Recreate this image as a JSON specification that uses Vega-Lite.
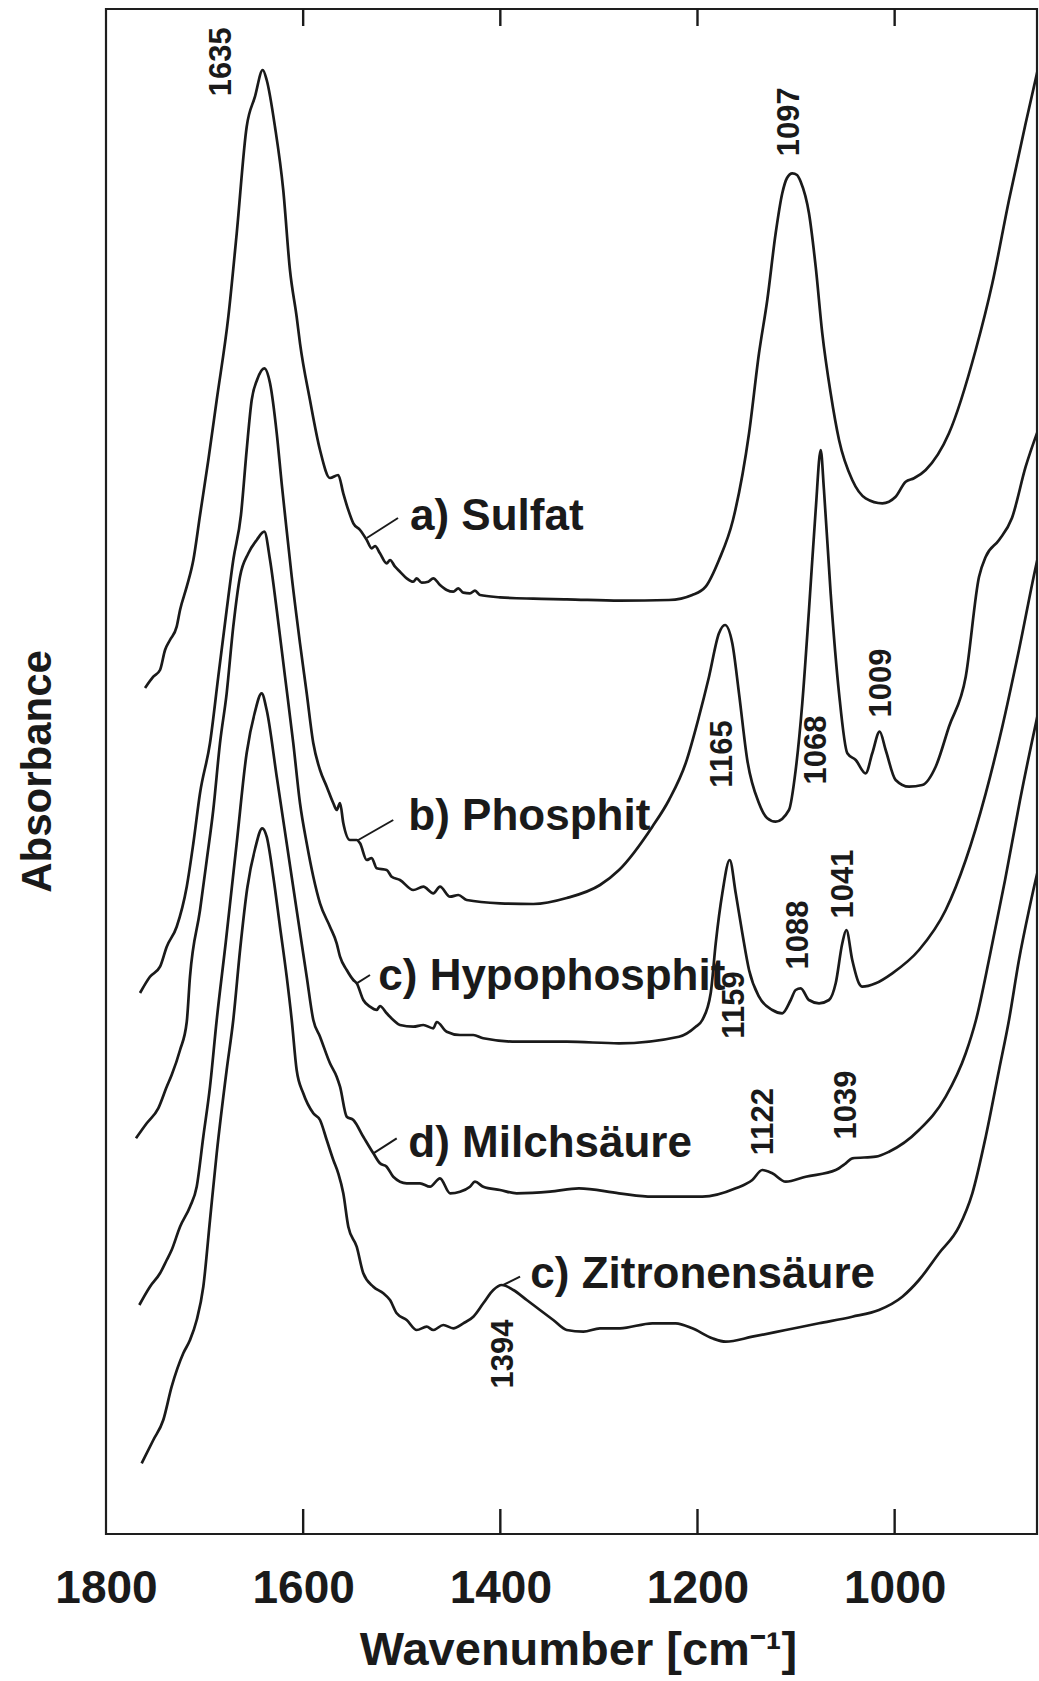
{
  "$schema": "https://vega.github.io/schema/vega-lite/v6.json",
  "width": 931,
  "height": 1525,
  "autosize": {"type": "none"},
  "padding": {"left": 106, "top": 9, "right": 2, "bottom": 147},
  "background": "white",
  "config": {
    "view": {"stroke": "#1e1e1e", "strokeWidth": 2.2},
    "font": "Liberation Sans, Arial, sans-serif"
  },
  "datasets": {
    "spectra": [
      {"s":"a","wn":1760.4,"A":846},{"s":"a","wn":1752.0,"A":857.3},{"s":"a","wn":1745.2,"A":864},{"s":"a","wn":1740.1,"A":884},{"s":"a","wn":1735.1,"A":894},{"s":"a","wn":1728.3,"A":907.3},{"s":"a","wn":1724.9,"A":924},{"s":"a","wn":1718.1,"A":947.3},{"s":"a","wn":1711.4,"A":974},{"s":"a","wn":1704.6,"A":1019},{"s":"a","wn":1696.2,"A":1074},{"s":"a","wn":1687.7,"A":1134},{"s":"a","wn":1675.9,"A":1217.3},{"s":"a","wn":1667.4,"A":1300.7},{"s":"a","wn":1657.3,"A":1407.3},{"s":"a","wn":1648.9,"A":1437.3},{"s":"a","wn":1641.0,"A":1464},{"s":"a","wn":1637.0,"A":1454},{"s":"a","wn":1628.6,"A":1407.3},{"s":"a","wn":1620.2,"A":1344},{"s":"a","wn":1613.4,"A":1264},{"s":"a","wn":1606.6,"A":1217.3},{"s":"a","wn":1603.2,"A":1190.7},{"s":"a","wn":1593.1,"A":1134},{"s":"a","wn":1582.9,"A":1084},{"s":"a","wn":1572.8,"A":1056},{"s":"a","wn":1564.4,"A":1059},{"s":"a","wn":1559.3,"A":1040.7},{"s":"a","wn":1554.2,"A":1024},{"s":"a","wn":1549.1,"A":1010.7},{"s":"a","wn":1542.3,"A":1004},{"s":"a","wn":1535.5,"A":994},{"s":"a","wn":1530.5,"A":985.7},{"s":"a","wn":1527.1,"A":988},{"s":"a","wn":1522.1,"A":980.7},{"s":"a","wn":1515.3,"A":970.7},{"s":"a","wn":1511.9,"A":974},{"s":"a","wn":1506.8,"A":967.3},{"s":"a","wn":1501.8,"A":962.3},{"s":"a","wn":1495.0,"A":955.7},{"s":"a","wn":1488.3,"A":952.3},{"s":"a","wn":1484.8,"A":955.7},{"s":"a","wn":1479.8,"A":951.3},{"s":"a","wn":1473.1,"A":952.3},{"s":"a","wn":1468.0,"A":955.7},{"s":"a","wn":1461.2,"A":949},{"s":"a","wn":1454.4,"A":944},{"s":"a","wn":1447.7,"A":942.3},{"s":"a","wn":1442.6,"A":945.7},{"s":"a","wn":1437.6,"A":941.3},{"s":"a","wn":1430.8,"A":940.7},{"s":"a","wn":1425.7,"A":943.3},{"s":"a","wn":1420.6,"A":939},{"s":"a","wn":1400.3,"A":936.7},{"s":"a","wn":1366.5,"A":935.3},{"s":"a","wn":1332.7,"A":934.7},{"s":"a","wn":1278.6,"A":933.3},{"s":"a","wn":1228.9,"A":934},{"s":"a","wn":1205.3,"A":939},{"s":"a","wn":1191.7,"A":947.3},{"s":"a","wn":1178.2,"A":974},{"s":"a","wn":1164.0,"A":1014},{"s":"a","wn":1147.7,"A":1100.7},{"s":"a","wn":1137.6,"A":1180.7},{"s":"a","wn":1129.2,"A":1234},{"s":"a","wn":1120.7,"A":1300.7},{"s":"a","wn":1114.0,"A":1340.7},{"s":"a","wn":1109.2,"A":1356},{"s":"a","wn":1103.8,"A":1360.7},{"s":"a","wn":1099.0,"A":1359},{"s":"a","wn":1095.3,"A":1352.3},{"s":"a","wn":1086.9,"A":1320.7},{"s":"a","wn":1080.1,"A":1267.3},{"s":"a","wn":1073.4,"A":1200.7},{"s":"a","wn":1064.9,"A":1140.7},{"s":"a","wn":1056.4,"A":1094},{"s":"a","wn":1043.0,"A":1054},{"s":"a","wn":1029.4,"A":1035.7},{"s":"a","wn":1012.5,"A":1030.7},{"s":"a","wn":999.0,"A":1037.3},{"s":"a","wn":988.8,"A":1052.3},{"s":"a","wn":980.4,"A":1055.7},{"s":"a","wn":968.5,"A":1064},{"s":"a","wn":944.9,"A":1100.7},{"s":"a","wn":917.8,"A":1184},{"s":"a","wn":900.9,"A":1250.7},{"s":"a","wn":884.0,"A":1334},{"s":"a","wn":867.1,"A":1410.7},{"s":"a","wn":852.6,"A":1474},
      {"s":"b","wn":1765.5,"A":541},{"s":"b","wn":1755.4,"A":557.3},{"s":"b","wn":1745.2,"A":567.3},{"s":"b","wn":1738.4,"A":587.3},{"s":"b","wn":1728.3,"A":607.3},{"s":"b","wn":1718.1,"A":647.3},{"s":"b","wn":1711.4,"A":690.7},{"s":"b","wn":1704.6,"A":741},{"s":"b","wn":1694.5,"A":791},{"s":"b","wn":1686.1,"A":857.3},{"s":"b","wn":1677.6,"A":924},{"s":"b","wn":1670.9,"A":974},{"s":"b","wn":1663.1,"A":1019},{"s":"b","wn":1657.3,"A":1084},{"s":"b","wn":1652.2,"A":1134},{"s":"b","wn":1646.8,"A":1154},{"s":"b","wn":1639.4,"A":1165.7},{"s":"b","wn":1633.6,"A":1150.7},{"s":"b","wn":1626.8,"A":1100.7},{"s":"b","wn":1621.8,"A":1050.7},{"s":"b","wn":1618.4,"A":1019},{"s":"b","wn":1611.6,"A":957.3},{"s":"b","wn":1603.2,"A":890.7},{"s":"b","wn":1596.4,"A":840.7},{"s":"b","wn":1589.7,"A":790.7},{"s":"b","wn":1582.9,"A":764},{"s":"b","wn":1576.1,"A":747.3},{"s":"b","wn":1569.4,"A":730.7},{"s":"b","wn":1566.0,"A":724},{"s":"b","wn":1562.6,"A":731},{"s":"b","wn":1559.3,"A":711},{"s":"b","wn":1552.5,"A":694},{"s":"b","wn":1545.7,"A":694},{"s":"b","wn":1542.3,"A":690.7},{"s":"b","wn":1535.5,"A":674},{"s":"b","wn":1530.5,"A":676},{"s":"b","wn":1525.4,"A":665.7},{"s":"b","wn":1515.3,"A":664},{"s":"b","wn":1510.2,"A":657.3},{"s":"b","wn":1501.8,"A":654},{"s":"b","wn":1488.3,"A":644},{"s":"b","wn":1478.1,"A":647.3},{"s":"b","wn":1468.0,"A":640.7},{"s":"b","wn":1461.2,"A":647.3},{"s":"b","wn":1451.0,"A":637.3},{"s":"b","wn":1442.6,"A":639},{"s":"b","wn":1434.1,"A":634},{"s":"b","wn":1400.3,"A":630.7},{"s":"b","wn":1366.5,"A":630},{"s":"b","wn":1332.7,"A":636},{"s":"b","wn":1298.9,"A":649},{"s":"b","wn":1279.6,"A":664},{"s":"b","wn":1245.8,"A":707.3},{"s":"b","wn":1228.9,"A":734},{"s":"b","wn":1212.0,"A":770.7},{"s":"b","wn":1198.5,"A":817.3},{"s":"b","wn":1188.3,"A":857.3},{"s":"b","wn":1178.2,"A":900.7},{"s":"b","wn":1172.1,"A":909},{"s":"b","wn":1164.7,"A":890.7},{"s":"b","wn":1157.9,"A":840.7},{"s":"b","wn":1149.5,"A":774},{"s":"b","wn":1137.6,"A":730.7},{"s":"b","wn":1129.5,"A":716},{"s":"b","wn":1120.7,"A":712.3},{"s":"b","wn":1107.2,"A":724},{"s":"b","wn":1100.4,"A":764},{"s":"b","wn":1093.7,"A":830.7},{"s":"b","wn":1086.9,"A":924},{"s":"b","wn":1080.1,"A":1024},{"s":"b","wn":1075.0,"A":1084},{"s":"b","wn":1071.7,"A":1044},{"s":"b","wn":1064.9,"A":940.7},{"s":"b","wn":1056.4,"A":840.7},{"s":"b","wn":1048.0,"A":780.7},{"s":"b","wn":1039.5,"A":774},{"s":"b","wn":1029.4,"A":760.7},{"s":"b","wn":1022.7,"A":780.7},{"s":"b","wn":1015.2,"A":802.3},{"s":"b","wn":1009.1,"A":784},{"s":"b","wn":999.0,"A":754},{"s":"b","wn":985.4,"A":747.3},{"s":"b","wn":972.0,"A":749},{"s":"b","wn":958.4,"A":767.3},{"s":"b","wn":944.9,"A":807.3},{"s":"b","wn":927.9,"A":857.3},{"s":"b","wn":914.4,"A":957.3},{"s":"b","wn":907.6,"A":977.3},{"s":"b","wn":894.1,"A":994},{"s":"b","wn":881.0,"A":1016},{"s":"b","wn":867.1,"A":1067.3},{"s":"b","wn":852.6,"A":1109},
      {"s":"c","wn":1769.6,"A":395.7},{"s":"c","wn":1758.7,"A":410.7},{"s":"c","wn":1747.0,"A":425.7},{"s":"c","wn":1738.4,"A":447.3},{"s":"c","wn":1733.4,"A":459},{"s":"c","wn":1724.9,"A":484},{"s":"c","wn":1718.1,"A":512},{"s":"c","wn":1714.8,"A":557.3},{"s":"c","wn":1704.6,"A":624},{"s":"c","wn":1697.8,"A":674},{"s":"c","wn":1691.2,"A":724},{"s":"c","wn":1684.4,"A":790.7},{"s":"c","wn":1677.6,"A":840.7},{"s":"c","wn":1670.9,"A":907.3},{"s":"c","wn":1664.1,"A":957.3},{"s":"c","wn":1655.6,"A":980.7},{"s":"c","wn":1647.1,"A":994},{"s":"c","wn":1639.4,"A":1002.3},{"s":"c","wn":1633.6,"A":974},{"s":"c","wn":1626.8,"A":924},{"s":"c","wn":1618.4,"A":857.3},{"s":"c","wn":1610.0,"A":790.7},{"s":"c","wn":1603.2,"A":730.7},{"s":"c","wn":1596.4,"A":690.7},{"s":"c","wn":1589.7,"A":657.3},{"s":"c","wn":1582.9,"A":630.7},{"s":"c","wn":1572.8,"A":607.3},{"s":"c","wn":1566.0,"A":590.7},{"s":"c","wn":1562.6,"A":577.3},{"s":"c","wn":1555.8,"A":564},{"s":"c","wn":1549.1,"A":554},{"s":"c","wn":1545.7,"A":550.7},{"s":"c","wn":1539.0,"A":534},{"s":"c","wn":1532.2,"A":527.3},{"s":"c","wn":1525.4,"A":524},{"s":"c","wn":1522.1,"A":528},{"s":"c","wn":1515.3,"A":520.7},{"s":"c","wn":1508.6,"A":514},{"s":"c","wn":1501.8,"A":509},{"s":"c","wn":1488.3,"A":507.3},{"s":"c","wn":1478.1,"A":509},{"s":"c","wn":1468.0,"A":505.7},{"s":"c","wn":1464.5,"A":512},{"s":"c","wn":1454.4,"A":502.3},{"s":"c","wn":1440.9,"A":499},{"s":"c","wn":1427.4,"A":499},{"s":"c","wn":1417.3,"A":495.7},{"s":"c","wn":1383.4,"A":492.3},{"s":"c","wn":1332.7,"A":492.3},{"s":"c","wn":1279.6,"A":490.7},{"s":"c","wn":1218.8,"A":497.3},{"s":"c","wn":1201.8,"A":507.3},{"s":"c","wn":1195.1,"A":514},{"s":"c","wn":1186.6,"A":540.7},{"s":"c","wn":1181.5,"A":590.7},{"s":"c","wn":1174.8,"A":640.7},{"s":"c","wn":1167.3,"A":674},{"s":"c","wn":1161.2,"A":640.7},{"s":"c","wn":1154.5,"A":600.7},{"s":"c","wn":1147.7,"A":564},{"s":"c","wn":1137.6,"A":537.3},{"s":"c","wn":1124.1,"A":524},{"s":"c","wn":1114.0,"A":520.7},{"s":"c","wn":1105.4,"A":534},{"s":"c","wn":1100.4,"A":544},{"s":"c","wn":1095.3,"A":545.7},{"s":"c","wn":1086.9,"A":534},{"s":"c","wn":1076.7,"A":530.7},{"s":"c","wn":1066.6,"A":534},{"s":"c","wn":1059.8,"A":550.7},{"s":"c","wn":1053.1,"A":590.7},{"s":"c","wn":1049.0,"A":604},{"s":"c","wn":1043.0,"A":574},{"s":"c","wn":1036.2,"A":550.7},{"s":"c","wn":1032.8,"A":547.3},{"s":"c","wn":1019.2,"A":550.7},{"s":"c","wn":1002.4,"A":560.7},{"s":"c","wn":975.3,"A":584},{"s":"c","wn":948.2,"A":624},{"s":"c","wn":927.9,"A":674},{"s":"c","wn":907.6,"A":740.7},{"s":"c","wn":890.8,"A":807.3},{"s":"c","wn":873.9,"A":884},{"s":"c","wn":855.3,"A":974},{"s":"c","wn":850.5,"A":994},
      {"s":"d","wn":1766.2,"A":229},{"s":"d","wn":1755.4,"A":247.3},{"s":"d","wn":1745.2,"A":260.7},{"s":"d","wn":1738.4,"A":274},{"s":"d","wn":1733.4,"A":284},{"s":"d","wn":1724.9,"A":307.3},{"s":"d","wn":1714.8,"A":327.3},{"s":"d","wn":1708.0,"A":347.3},{"s":"d","wn":1701.3,"A":397.3},{"s":"d","wn":1694.5,"A":447.3},{"s":"d","wn":1687.7,"A":514},{"s":"d","wn":1678.6,"A":591},{"s":"d","wn":1667.4,"A":691},{"s":"d","wn":1657.3,"A":781},{"s":"d","wn":1649.2,"A":821},{"s":"d","wn":1642.1,"A":840.7},{"s":"d","wn":1637.0,"A":824},{"s":"d","wn":1626.8,"A":757.3},{"s":"d","wn":1616.7,"A":690.7},{"s":"d","wn":1606.6,"A":624},{"s":"d","wn":1596.4,"A":557.3},{"s":"d","wn":1589.7,"A":514},{"s":"d","wn":1582.9,"A":497.3},{"s":"d","wn":1572.8,"A":470.7},{"s":"d","wn":1566.0,"A":457.3},{"s":"d","wn":1562.6,"A":447.3},{"s":"d","wn":1555.8,"A":417.3},{"s":"d","wn":1549.1,"A":414},{"s":"d","wn":1539.0,"A":397.3},{"s":"d","wn":1528.8,"A":380.7},{"s":"d","wn":1522.1,"A":370.7},{"s":"d","wn":1515.3,"A":367.3},{"s":"d","wn":1508.6,"A":357.3},{"s":"d","wn":1495.0,"A":350.7},{"s":"d","wn":1481.5,"A":350.7},{"s":"d","wn":1471.3,"A":347.3},{"s":"d","wn":1461.2,"A":355.7},{"s":"d","wn":1451.0,"A":340.7},{"s":"d","wn":1440.9,"A":342.3},{"s":"d","wn":1430.8,"A":347.3},{"s":"d","wn":1425.7,"A":352.3},{"s":"d","wn":1417.3,"A":347.3},{"s":"d","wn":1400.3,"A":344},{"s":"d","wn":1383.4,"A":340.7},{"s":"d","wn":1349.6,"A":342.3},{"s":"d","wn":1320.2,"A":345.7},{"s":"d","wn":1279.6,"A":340.7},{"s":"d","wn":1245.8,"A":337.3},{"s":"d","wn":1195.1,"A":337.3},{"s":"d","wn":1161.2,"A":345.7},{"s":"d","wn":1144.4,"A":354},{"s":"d","wn":1134.3,"A":364},{"s":"d","wn":1124.1,"A":360.7},{"s":"d","wn":1110.5,"A":352.3},{"s":"d","wn":1090.2,"A":357.3},{"s":"d","wn":1059.8,"A":364},{"s":"d","wn":1049.6,"A":370.7},{"s":"d","wn":1043.0,"A":375.7},{"s":"d","wn":1019.2,"A":377.3},{"s":"d","wn":1005.7,"A":382.3},{"s":"d","wn":975.3,"A":404},{"s":"d","wn":948.2,"A":437.3},{"s":"d","wn":927.9,"A":480.7},{"s":"d","wn":917.5,"A":514},{"s":"d","wn":903.3,"A":579},{"s":"d","wn":888.0,"A":654},{"s":"d","wn":872.8,"A":734},{"s":"d","wn":855.6,"A":816},{"s":"d","wn":850.5,"A":839},
      {"s":"e","wn":1763.8,"A":70.7},{"s":"e","wn":1752.0,"A":94},{"s":"e","wn":1741.9,"A":114},{"s":"e","wn":1733.4,"A":147.3},{"s":"e","wn":1721.6,"A":180.7},{"s":"e","wn":1714.8,"A":194},{"s":"e","wn":1708.0,"A":214},{"s":"e","wn":1701.3,"A":247.3},{"s":"e","wn":1694.5,"A":314},{"s":"e","wn":1687.7,"A":380.7},{"s":"e","wn":1677.6,"A":464},{"s":"e","wn":1670.9,"A":514},{"s":"e","wn":1663.8,"A":586},{"s":"e","wn":1656.7,"A":646},{"s":"e","wn":1648.6,"A":686},{"s":"e","wn":1641.5,"A":705.7},{"s":"e","wn":1637.0,"A":697.3},{"s":"e","wn":1630.3,"A":657.3},{"s":"e","wn":1623.5,"A":607.3},{"s":"e","wn":1616.7,"A":557.3},{"s":"e","wn":1611.6,"A":514},{"s":"e","wn":1606.6,"A":464},{"s":"e","wn":1599.9,"A":440.7},{"s":"e","wn":1589.7,"A":420.7},{"s":"e","wn":1582.9,"A":414},{"s":"e","wn":1576.1,"A":394},{"s":"e","wn":1569.4,"A":374},{"s":"e","wn":1564.4,"A":360.7},{"s":"e","wn":1559.3,"A":340.7},{"s":"e","wn":1554.2,"A":307.3},{"s":"e","wn":1545.7,"A":287.3},{"s":"e","wn":1539.0,"A":260.7},{"s":"e","wn":1528.8,"A":247.3},{"s":"e","wn":1518.7,"A":240.7},{"s":"e","wn":1511.9,"A":234},{"s":"e","wn":1505.1,"A":220.7},{"s":"e","wn":1495.0,"A":214},{"s":"e","wn":1484.8,"A":204},{"s":"e","wn":1474.7,"A":207.3},{"s":"e","wn":1468.0,"A":204},{"s":"e","wn":1457.8,"A":209},{"s":"e","wn":1447.7,"A":205.7},{"s":"e","wn":1437.6,"A":210.7},{"s":"e","wn":1427.4,"A":217.3},{"s":"e","wn":1417.3,"A":230.7},{"s":"e","wn":1407.1,"A":244},{"s":"e","wn":1398.6,"A":249},{"s":"e","wn":1386.8,"A":244},{"s":"e","wn":1373.2,"A":234},{"s":"e","wn":1359.8,"A":224},{"s":"e","wn":1346.3,"A":214},{"s":"e","wn":1332.7,"A":204},{"s":"e","wn":1315.8,"A":202.3},{"s":"e","wn":1298.9,"A":205.7},{"s":"e","wn":1278.6,"A":205.7},{"s":"e","wn":1245.8,"A":210.7},{"s":"e","wn":1222.1,"A":210.7},{"s":"e","wn":1205.3,"A":205.7},{"s":"e","wn":1185.0,"A":195.7},{"s":"e","wn":1171.4,"A":192.3},{"s":"e","wn":1144.4,"A":197.3},{"s":"e","wn":1110.5,"A":204},{"s":"e","wn":1076.7,"A":210.7},{"s":"e","wn":1043.0,"A":217.3},{"s":"e","wn":1015.9,"A":224},{"s":"e","wn":992.2,"A":237.3},{"s":"e","wn":975.3,"A":254},{"s":"e","wn":955.0,"A":280.7},{"s":"e","wn":934.7,"A":307.3},{"s":"e","wn":921.2,"A":340.7},{"s":"e","wn":907.6,"A":397.3},{"s":"e","wn":894.1,"A":464},{"s":"e","wn":884.0,"A":514},{"s":"e","wn":873.9,"A":574},{"s":"e","wn":863.7,"A":624},{"s":"e","wn":855.3,"A":661},{"s":"e","wn":850.5,"A":679}
    ],
    "ticks": [
      {"wn":1600,"A":0,"A2":25},{"wn":1400,"A":0,"A2":25},{"wn":1200,"A":0,"A2":25},{"wn":1000,"A":0,"A2":25},
      {"wn":1600,"A":1508,"A2":1525},{"wn":1400,"A":1508,"A2":1525},{"wn":1200,"A":1508,"A2":1525},{"wn":1000,"A":1508,"A2":1525}
    ],
    "pointers": [
      {"wn":1535.5,"A":996,"wn2":1503.8,"A2":1016},
      {"wn":1544.1,"A":694,"wn2":1508.6,"A2":714},
      {"wn":1545.7,"A":550.7,"wn2":1532.2,"A2":559},
      {"wn":1528.8,"A":380.7,"wn2":1505.1,"A2":395.7},
      {"wn":1397.0,"A":249,"wn2":1380.0,"A2":257.3}
    ],
    "names": [
      {"wn":1491.6,"A":1004,"t":"a) Sulfat"},
      {"wn":1493.3,"A":704,"t":"b) Phosphit"},
      {"wn":1523.8,"A":544,"t":"c) Hypophosphit"},
      {"wn":1493.3,"A":377.3,"t":"d) Milchsäure"},
      {"wn":1369.6,"A":245.7,"t":"c) Zitronensäure"}
    ],
    "peaks": [
      {"wn":1682.6,"A":1472.3,"t":"1635"},
      {"wn":1106.3,"A":1412.3,"t":"1097"},
      {"wn":1174.1,"A":780,"t":"1165"},
      {"wn":1078.8,"A":784,"t":"1068"},
      {"wn":1013.3,"A":851,"t":"1009"},
      {"wn":1161.9,"A":529,"t":"1159"},
      {"wn":1097.0,"A":599,"t":"1088"},
      {"wn":1051.4,"A":650,"t":"1041"},
      {"wn":1132.5,"A":412.3,"t":"1122"},
      {"wn":1048.0,"A":429,"t":"1039"},
      {"wn":1396.3,"A":180,"t":"1394"}
    ]
  },
  "encoding": {
    "x": {
      "field": "wn", "type": "quantitative",
      "scale": {"domain": [855.6, 1800], "reverse": true, "nice": false, "zero": false},
      "axis": {
        "values": [1800, 1600, 1400, 1200, 1000], "format": "d",
        "domain": false, "ticks": false, "tickSize": 0, "grid": false,
        "labelFont": "Liberation Sans, Arial, sans-serif",
        "labelFontSize": 46, "labelFontWeight": "bold", "labelColor": "#1a1a1a",
        "labelPadding": 68, "labelBaseline": "alphabetic", "labelFlush": false, "labelOverlap": false, "labelBound": false,
        "title": "Wavenumber [cm⁻¹]",
        "titleFont": "Liberation Sans, Arial, sans-serif",
        "titleFontSize": 47, "titleFontWeight": "bold", "titleColor": "#1a1a1a",
        "titleX": 472, "titleY": 130, "titleAlign": "center", "titleBaseline": "alphabetic"
      }
    },
    "y": {
      "field": "A", "type": "quantitative",
      "scale": {"domain": [0, 1525], "nice": false, "zero": false},
      "axis": {
        "domain": false, "ticks": false, "labels": false, "grid": false,
        "title": "Absorbance",
        "titleFont": "Liberation Sans, Arial, sans-serif",
        "titleFontSize": 42, "titleFontWeight": "bold", "titleColor": "#1a1a1a",
        "titleX": -56, "titleY": 762, "titleAngle": 270, "titleAlign": "center", "titleBaseline": "alphabetic"
      }
    }
  },
  "layer": [
    {
      "data": {"name": "spectra"},
      "mark": {"type": "line", "stroke": "#1a1a1a", "strokeWidth": 2.7, "clip": true, "strokeJoin": "round", "interpolate": "monotone"},
      "encoding": {"detail": {"field": "s"}}
    },
    {
      "data": {"name": "ticks"},
      "mark": {"type": "rule", "stroke": "#1a1a1a", "strokeWidth": 2.4},
      "encoding": {"y2": {"field": "A2"}}
    },
    {
      "data": {"name": "pointers"},
      "mark": {"type": "rule", "stroke": "#1a1a1a", "strokeWidth": 2},
      "encoding": {"x2": {"field": "wn2"}, "y2": {"field": "A2"}}
    },
    {
      "data": {"name": "names"},
      "mark": {"type": "text", "align": "left", "baseline": "alphabetic", "fontSize": 44, "fontWeight": "bold", "color": "#1a1a1a", "font": "Liberation Sans, Arial, sans-serif"},
      "encoding": {"text": {"field": "t"}}
    },
    {
      "data": {"name": "peaks"},
      "mark": {"type": "text", "align": "center", "baseline": "middle", "angle": 270, "fontSize": 31, "fontWeight": "bold", "color": "#1a1a1a", "font": "Liberation Sans, Arial, sans-serif"},
      "encoding": {"text": {"field": "t"}}
    }
  ]
}
